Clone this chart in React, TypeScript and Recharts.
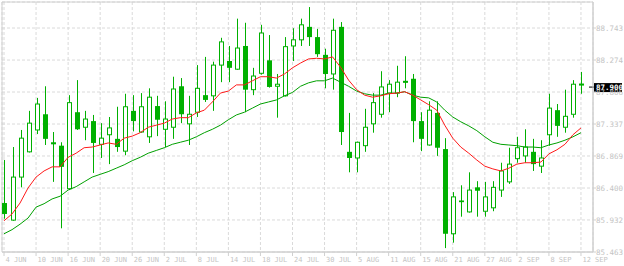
import { ComposedChart, Bar, Line, XAxis, YAxis, CartesianGrid, ReferenceLine, ReferenceArea } from "recharts";

// daily candles, 4 JUN .. 12 SEP
const dateLabels = [
  "4 JUN", "10 JUN", "16 JUN", "20 JUN", "26 JUN", "2 JUL", "8 JUL", "14 JUL", "18 JUL", "24 JUL",
  "30 JUL", "5 AUG", "11 AUG", "15 AUG", "21 AUG", "27 AUG", "2 SEP", "8 SEP", "12 SEP",
];

const openPrices = [
  86.18, 85.93, 86.56, 86.93, 87.25, 87.48, 87.07, 87.02, 86.39, 87.51,
  87.29, 87.38, 87.04, 87.18, 87.12, 86.94, 87.53, 87.22, 87.15, 87.6,
  87.26, 87.29, 87.89, 87.34, 87.51, 87.76, 87.75, 88.2, 88.26, 88.14,
  88.48, 87.84, 88.08, 88.27, 87.89, 87.75, 88.48, 88.57, 88.76, 88.61,
  88.35, 88.07, 88.76, 86.93, 86.84, 87.02, 87.34, 87.48, 87.79, 87.79,
  87.97, 88.0, 87.38, 87.03, 87.5, 86.97, 85.73, 86.2, 86.05, 86.41,
  86.06, 86.11, 86.37, 86.49, 86.83, 86.87, 86.93, 86.72, 87.18, 87.54,
  87.29, 87.48, 87.93,
];
const highPrices = [
  86.81, 87.0, 87.25, 87.53, 87.72, 87.89, 87.22, 87.07, 87.76, 87.98,
  87.53, 87.47, 87.35, 87.44, 87.59, 87.78, 87.76, 87.79, 87.86, 87.75,
  87.67, 88.03, 88.01, 87.75, 88.2, 88.32, 88.25, 88.6, 88.48, 88.88,
  88.82, 88.16, 88.79, 88.64, 88.07, 88.61, 88.74, 88.88, 89.05, 88.73,
  88.44, 88.88, 88.83, 87.5, 87.08, 87.56, 87.79, 88.11, 87.98, 88.19,
  88.33, 88.07, 87.51, 87.67, 87.67, 87.13, 86.34, 86.44, 86.63, 86.5,
  86.49, 86.5, 86.77, 86.99, 87.15, 87.26, 87.12, 87.1, 87.78, 87.63,
  87.84, 87.98, 88.1,
];
const lowPrices = [
  85.95, 85.92, 86.41, 86.92, 87.19, 87.03, 86.49, 85.81, 86.37, 87.25,
  87.1, 86.62, 86.84, 86.75, 86.93, 86.88, 87.23, 87.21, 87.06, 87.16,
  87.0, 87.12, 87.35, 87.03, 87.44, 87.66, 87.53, 87.95, 87.95, 88.13,
  87.51, 87.76, 88.06, 87.87, 87.43, 87.74, 88.26, 88.48, 88.48, 88.32,
  87.86, 87.84, 87.03, 86.63, 86.63, 86.93, 87.21, 87.43, 87.51, 87.73,
  87.86, 87.07, 86.94, 87.02, 86.87, 85.52, 85.6, 85.98, 86.04, 85.98,
  85.98, 86.06, 86.27, 86.46, 86.77, 86.77, 86.65, 86.62, 87.02, 87.15,
  87.21, 87.43, 87.78,
];
const closePrices = [
  86.02, 86.56, 87.13, 87.35, 87.63, 87.12, 87.04, 86.71, 87.65, 87.26,
  87.41, 87.06, 87.13, 87.28, 87.0, 87.59, 87.38, 87.59, 87.73, 87.4,
  87.41, 87.85, 87.48, 87.48, 87.86, 87.69, 88.2, 88.54, 88.16, 88.45,
  87.84, 88.04, 88.67, 87.88, 87.92, 88.47, 88.57, 88.79, 88.61, 88.36,
  88.07, 88.71, 87.22, 86.84, 87.07, 87.29, 87.65, 87.88, 87.92, 87.95,
  87.94, 87.38, 87.12, 87.54, 86.99, 85.73, 86.27, 86.21, 86.37, 86.36,
  86.27, 86.41, 86.65, 86.75, 86.99, 87.0, 86.75, 86.84, 87.57, 87.31,
  87.45, 87.92, 87.9,
];

// red (fast) and green (slow) moving averages
const fastMA = [
  85.92, 86.02, 86.18, 86.4, 86.56, 86.65, 86.71, 86.71, 86.85, 86.91,
  86.99, 87.0, 87.03, 87.06, 87.04, 87.13, 87.16, 87.21, 87.29, 87.32,
  87.35, 87.41, 87.43, 87.43, 87.5, 87.54, 87.66, 87.79, 87.82, 87.91,
  87.91, 87.97, 88.03, 88.03, 88.01, 88.07, 88.16, 88.23, 88.29, 88.3,
  88.29, 88.32, 88.17, 87.98, 87.84, 87.76, 87.73, 87.75, 87.78, 87.79,
  87.81, 87.76, 87.69, 87.62, 87.54, 87.32, 87.13, 87.0, 86.91, 86.81,
  86.72, 86.68, 86.65, 86.69, 86.75, 86.77, 86.77, 86.78, 86.9, 86.96,
  87.04, 87.18, 87.28,
];
const slowMA = [
  85.73, 85.79, 85.87, 85.96, 86.12, 86.17, 86.24, 86.28, 86.37, 86.42,
  86.49, 86.56, 86.6, 86.64, 86.69, 86.74, 86.8, 86.85, 86.91, 86.95,
  86.99, 87.04, 87.07, 87.1, 87.15, 87.21, 87.26, 87.32, 87.4, 87.47,
  87.51, 87.57, 87.63, 87.66, 87.69, 87.75, 87.8, 87.89, 87.94, 87.97,
  87.97, 88.01, 87.95, 87.89, 87.82, 87.78, 87.76, 87.76, 87.79, 87.79,
  87.81, 87.76, 87.73, 87.72, 87.66, 87.54, 87.44, 87.37, 87.31, 87.24,
  87.15, 87.07, 87.04, 87.03, 87.02, 87.0, 87.0, 86.99, 87.03, 87.06,
  87.1, 87.15, 87.21,
];

const priceTicks = [85.463, 85.932, 86.4, 86.869, 87.337, 87.806, 88.274, 88.743];
const lastPrice = 87.9;

const CANDLE = "#00b000";
const TEXT = "#c4c4c4";
const FONT = "DejaVu Sans Mono";

const data = openPrices.map((open, i) => ({
  idx: i,
  open,
  high: highPrices[i],
  low: lowPrices[i],
  close: closePrices[i],
  range: [lowPrices[i], highPrices[i]],
  fast: fastMA[i],
  slow: slowMA[i],
}));

// one label every 4th bar
const labelIdx = dateLabels.map((_, i) => i * 4);

function Candle(props: any) {
  const { x, y, width, height, payload } = props;
  if (height == null || !payload) return null;
  const { open, close, high, low } = payload;
  const cx = Math.round(x + width / 2) + 0.5;
  const k = height / (high - low);
  const yOf = (v: number) => y + (high - v) * k;
  const top = yOf(Math.max(open, close));
  const bot = yOf(Math.min(open, close));
  const up = close >= open;
  return (
    <g>
      <line x1={cx} x2={cx} y1={yOf(high)} y2={yOf(low)} stroke={CANDLE} strokeWidth={1} />
      {up ? (
        <rect x={cx - 2} y={top} width={4} height={Math.max(bot - top, 0.5)} fill="#fff" stroke={CANDLE} strokeWidth={1} />
      ) : (
        <rect x={cx - 2.5} y={top} width={5} height={Math.max(bot - top, 1)} fill={CANDLE} />
      )}
    </g>
  );
}

function DateTick({ x, y, payload }: any) {
  const label = dateLabels[Math.round(payload.value / 4)];
  return (
    <text x={x + 1.5} y={y + 6} fill={TEXT} fontSize={7} fontFamily={FONT} textAnchor="start">
      {label}
    </text>
  );
}

function PriceTag({ viewBox }: any) {
  if (!viewBox) return null;
  const right = viewBox.x + viewBox.width;
  const vy = viewBox.y;
  return (
    <g>
      <line x1={right - 4} x2={right + 2} y1={vy + 1.5} y2={vy + 1.5} stroke="#000" strokeWidth={1} />
      <rect x={right + 1} y={vy - 2.5} width={28} height={9} fill="#000" />
      <text x={right + 3} y={vy + 4.8} fill="#fff" fontSize={7.5} fontWeight="bold" fontFamily={FONT}>
        {lastPrice.toFixed(3)}
      </text>
    </g>
  );
}

export default function App() {
  return (
    <div style={{ position: "absolute", left: 0, top: 0, width: 624, height: 266, background: "#fff" }}>
      <ComposedChart width={624} height={266} data={data} margin={{ top: 2, right: 0, bottom: 0, left: 2 }}>
        <CartesianGrid stroke="#dadada" strokeDasharray="3 2" />
        <XAxis
          dataKey="idx"
          type="number"
          domain={[-0.25, 73.5]}
          ticks={labelIdx}
          interval={0}
          allowDataOverflow
          height={14}
          tickSize={4}
          tickMargin={0}
          tickLine={{ stroke: "#d0d0d0" }}
          axisLine={{ stroke: "#d0d0d0" }}
          tick={<DateTick />}
        />
        <YAxis
          orientation="right"
          type="number"
          domain={[85.463, 89.124]}
          ticks={priceTicks}
          interval={0}
          allowDataOverflow
          width={31}
          tickSize={3}
          tickMargin={0}
          tickLine={{ stroke: "#d0d0d0" }}
          axisLine={{ stroke: "#d0d0d0" }}
          tick={{ fill: TEXT, fontSize: 7.5, fontFamily: FONT }}
          tickFormatter={(v: number) => v.toFixed(3)}
        />
        <ReferenceArea x1={-0.25} x2={73.5} y1={85.463} y2={89.124} fill="none" stroke="#d0d0d0" ifOverflow="visible" />
        <Bar dataKey="range" barSize={5} shape={<Candle />} isAnimationActive={false} />
        <Line type="linear" dataKey="slow" stroke="#00a000" strokeWidth={1} dot={false} activeDot={false} isAnimationActive={false} />
        <Line type="linear" dataKey="fast" stroke="#ff1a1a" strokeWidth={1} dot={false} activeDot={false} isAnimationActive={false} />
        <ReferenceLine y={lastPrice} stroke="none" label={PriceTag} />
      </ComposedChart>
    </div>
  );
}
